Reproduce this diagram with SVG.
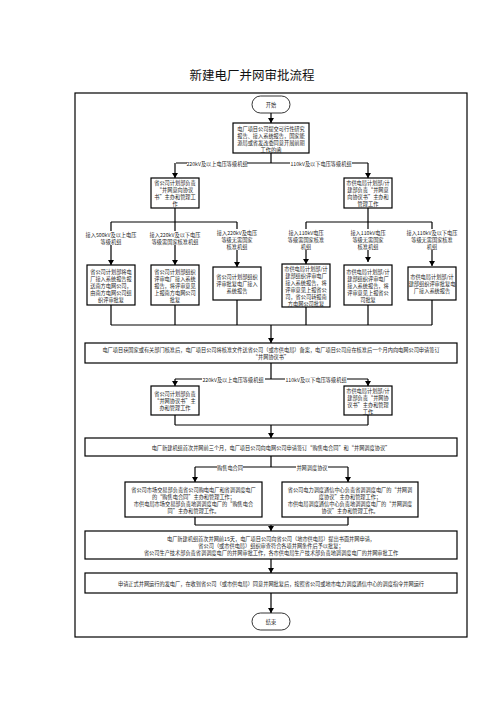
<svg xmlns="http://www.w3.org/2000/svg" width="504" height="713" viewBox="0 0 504 713">
<defs>
<marker id="ah" markerWidth="6" markerHeight="6" refX="5" refY="3" orient="auto" markerUnits="userSpaceOnUse">
<path d="M0,0 L5,3 L0,6 Z" fill="#000"/>
</marker>
<style>
.bx{fill:#fff;stroke:#000;stroke-width:1.2}
.tm{fill:#fff;stroke:#000;stroke-width:0.8}
.ln{fill:none;stroke:#000;stroke-width:1.2}
.ar{fill:none;stroke:#000;stroke-width:1.2;marker-end:url(#ah)}
.t{font-family:"Noto Sans CJK SC","Liberation Sans",sans-serif;font-size:5.2px;fill:#222;text-anchor:middle;dominant-baseline:central}
.lb{fill:#fff;stroke:none}
.ti{font-family:"Noto Sans CJK SC","Liberation Sans",sans-serif;font-size:12.5px;fill:#111;text-anchor:middle;dominant-baseline:central}
</style>
</defs>
<rect width="504" height="713" fill="#fff"/>
<text class="ti" x="252" y="74">新建电厂并网审批流程</text>
<rect id="frame" x="75" y="93" width="392" height="544" fill="none" stroke="#000" stroke-width="1.2"/>

<g id="connectors">
<path class="ar" d="M271,113 V123"/>
<path class="ln" d="M271,153 V163 M176,163 H368"/>
<path class="ar" d="M175,163 V178"/>
<path class="ar" d="M368,163 V178"/>
<path class="ln" d="M175,208 V222 M111,222 H237 M368,208 V222 M306,222 H432"/>
<path class="ar" d="M111,222 V265"/>
<path class="ar" d="M175,222 V265"/>
<path class="ar" d="M237,222 V267"/>
<path class="ar" d="M306,222 V264"/>
<path class="ar" d="M368,222 V262"/>
<path class="ar" d="M432,222 V266"/>
<path class="ln" d="M111,305 V325 M175,305 V325 M237,300 V325 M306,307 V325 M368,305 V325 M432,300 V325 M111,325 H432"/>
<path class="ar" d="M271,325 V343"/>
<path class="ln" d="M271,363 V379 M175,379 H368"/>
<path class="ar" d="M175,379 V386"/>
<path class="ar" d="M368,379 V386"/>
<path class="ln" d="M175,415 V425 M368,415 V425 M175,425 H368"/>
<path class="ar" d="M271,425 V438"/>
<path class="ln" d="M271,456 V467 M195,467 H348"/>
<path class="ar" d="M195,467 V482"/>
<path class="ar" d="M348,467 V482"/>
<path class="ln" d="M195,517 V525 M348,517 V525 M195,525 H348"/>
<path class="ar" d="M271,525 V531"/>
<path class="ar" d="M271,559 V573"/>
<path class="ar" d="M271,593 V613"/>
<rect class="lb" x="187" y="160" width="60" height="6"/>
<text class="t" x="217" y="163">220kV及以上电压等级机组</text>
<rect class="lb" x="290" y="160" width="62" height="6"/>
<text class="t" x="321" y="163">110kV及以下电压等级机组</text>
<rect class="lb" x="202" y="376" width="63" height="6"/>
<text class="t" x="233" y="379">220kV及以上电压等级机组</text>
<rect class="lb" x="285" y="376" width="62" height="6"/>
<text class="t" x="316" y="379">110kV及以下电压等级机组</text>
<rect class="lb" x="217" y="464" width="26" height="6"/>
<text class="t" x="230" y="467">购售电合同</text>
<rect class="lb" x="296" y="464" width="32" height="6"/>
<text class="t" x="312" y="467">并网调度协议</text>
</g>

<g id="labels">
<rect class="lb" x="86" y="231" width="50" height="14"/>
<text class="t" x="111" y="234.5">接入500kV及以上电压</text>
<text class="t" x="111" y="241.5">等级机组</text>
<rect class="lb" x="148" y="231" width="54" height="14"/>
<text class="t" x="175" y="234.5">接入220kV及以下电压</text>
<text class="t" x="175" y="241.5">等级需国家核准机组</text>
<rect class="lb" x="215" y="229" width="44" height="21"/>
<text class="t" x="237" y="232.5">接入220kV及电压</text>
<text class="t" x="237" y="239.5">等级无需国家</text>
<text class="t" x="237" y="246.5">核准机组</text>
<rect class="lb" x="284" y="229" width="44" height="21"/>
<text class="t" x="306" y="232.5">接入110kV电压</text>
<text class="t" x="306" y="239.5">等级需国家核准</text>
<text class="t" x="306" y="246.5">机组</text>
<rect class="lb" x="346" y="229" width="44" height="21"/>
<text class="t" x="368" y="232.5">接入110kV电压</text>
<text class="t" x="368" y="239.5">等级无需国家</text>
<text class="t" x="368" y="246.5">核准机组</text>
<rect class="lb" x="406" y="229" width="52" height="21"/>
<text class="t" x="432" y="232.5">接入110kV及以下电压</text>
<text class="t" x="432" y="239.5">等级无需国家核准</text>
<text class="t" x="432" y="246.5">机组</text>
</g>

<g id="start">
<rect class="tm" x="252" y="96" width="38" height="17" rx="8.5"/>
<text class="t" x="271" y="104.5">开始</text>
</g>

<g id="submit">
<rect class="bx" x="233" y="123" width="76" height="30"/>
<text class="t" x="271" y="128">电厂项目公司提交可行性研究</text>
<text class="t" x="271" y="135">报告、接入系统报告，国家能</text>
<text class="t" x="271" y="142">源局或省发改委同意开展前期</text>
<text class="t" x="271" y="149">工作的函</text>
</g>

<g id="prov-intent">
<rect class="bx" x="151" y="178" width="48" height="30"/>
<text class="t" x="175" y="182.5">省公司计划部负责</text>
<text class="t" x="175" y="189.5">“并网意向协议</text>
<text class="t" x="175" y="196.5">书”主办和管理工</text>
<text class="t" x="175" y="203.5">作</text>
</g>

<g id="city-intent">
<rect class="bx" x="344" y="178" width="48" height="30"/>
<text class="t" x="368" y="182.5">市供电局计划部/计</text>
<text class="t" x="368" y="189.5">建部负责“并网意</text>
<text class="t" x="368" y="196.5">向协议书”主办和</text>
<text class="t" x="368" y="203.5">管理工作</text>
</g>

<g id="review1">
<rect class="bx" x="87" y="265" width="48" height="40"/>
<text class="t" x="111" y="271">省公司计划部将电</text>
<text class="t" x="111" y="278">厂接入系统报告报</text>
<text class="t" x="111" y="285">送南方电网公司，</text>
<text class="t" x="111" y="292">由南方电网公司组</text>
<text class="t" x="111" y="299">织评审批复</text>
</g>

<g id="review2">
<rect class="bx" x="151" y="265" width="48" height="40"/>
<text class="t" x="175" y="271">省公司计划部组织</text>
<text class="t" x="175" y="278">评审电厂接入系统</text>
<text class="t" x="175" y="285">报告，将评审意见</text>
<text class="t" x="175" y="292">上报南方电网公司</text>
<text class="t" x="175" y="299">批复</text>
</g>

<g id="review3">
<rect class="bx" x="213" y="267" width="48" height="33"/>
<text class="t" x="237" y="276.5">省公司计划部组织</text>
<text class="t" x="237" y="283.5">评审批复电厂接入</text>
<text class="t" x="237" y="290.5">系统报告</text>
</g>

<g id="review4">
<rect class="bx" x="282" y="264" width="48" height="43"/>
<text class="t" x="306" y="268">市供电局计划部/计</text>
<text class="t" x="306" y="275">建部组织评审电厂</text>
<text class="t" x="306" y="282">接入系统报告，将</text>
<text class="t" x="306" y="289">评审意见上报省公</text>
<text class="t" x="306" y="296">司，省公司转报南</text>
<text class="t" x="306" y="303">方电网公司批复</text>
</g>

<g id="review5">
<rect class="bx" x="344" y="265" width="48" height="40"/>
<text class="t" x="368" y="271">市供电局计划部/计</text>
<text class="t" x="368" y="278">建部组织评审电厂</text>
<text class="t" x="368" y="285">接入系统报告，将</text>
<text class="t" x="368" y="292">评审意见上报省公</text>
<text class="t" x="368" y="299">司批复</text>
</g>

<g id="review6">
<rect class="bx" x="408" y="267" width="48" height="33"/>
<text class="t" x="432" y="276.5">市供电局计划部/计</text>
<text class="t" x="432" y="283.5">建部组织评审批复电</text>
<text class="t" x="432" y="290.5">厂接入系统报告</text>
</g>

<g id="approval">
<rect class="bx" x="85" y="343" width="372" height="20"/>
<text class="t" x="271" y="349.5">电厂项目获国家或有关部门核准后，电厂项目公司将核准文件送省公司（或市供电局）备案，电厂项目公司应在核准后一个月内向电网公司申请签订</text>
<text class="t" x="271" y="356.5">“并网协议书”</text>
</g>

<g id="prov-agreement">
<rect class="bx" x="151" y="386" width="48" height="29"/>
<text class="t" x="175" y="393.5">省公司计划部负责</text>
<text class="t" x="175" y="400.5">“并网协议书”主</text>
<text class="t" x="175" y="407.5">办和管理工作</text>
</g>

<g id="city-agreement">
<rect class="bx" x="344" y="386" width="48" height="29"/>
<text class="t" x="368" y="390">市供电局计划部/计</text>
<text class="t" x="368" y="397">建部负责“并网协</text>
<text class="t" x="368" y="404">议书”主办和管理</text>
<text class="t" x="368" y="411">工作</text>
</g>

<g id="contracts">
<rect class="bx" x="85" y="438" width="372" height="18"/>
<text class="t" x="271" y="447">电厂新建机组首次并网前三个月，电厂项目公司向电网公司申请签订“购售电合同”和“并网调度协议”</text>
</g>

<g id="purchase">
<rect class="bx" x="125" y="482" width="137" height="35"/>
<text class="t" x="193.5" y="489">省公司市场交易部负责省公司购电电厂和省调调度电厂</text>
<text class="t" x="193.5" y="496">的“购售电合同”主办和管理工作；</text>
<text class="t" x="193.5" y="503">市供电局市场交易部负责地调调度电厂的“购售电合</text>
<text class="t" x="193.5" y="510">同”主办和管理工作。</text>
</g>

<g id="dispatch">
<rect class="bx" x="282" y="482" width="136" height="35"/>
<text class="t" x="350" y="489">省公司电力调度通信中心负责省调调度电厂的“并网调</text>
<text class="t" x="350" y="496">度协议”主办和管理工作；</text>
<text class="t" x="350" y="503">市供电局调度通信中心负责地调调度电厂的“并网调度</text>
<text class="t" x="350" y="510">协议”主办和管理工作。</text>
</g>

<g id="grid-application">
<rect class="bx" x="85" y="531" width="372" height="28"/>
<text class="t" x="271" y="538">电厂新建机组首次并网前15天，电厂项目公司向省公司（地市供电局）提出书面并网申请，</text>
<text class="t" x="271" y="545">省公司（或市供电局）组织审查符合各项并网条件后予以批复；</text>
<text class="t" x="271" y="552">省公司生产技术部负责省调调度电厂的并网审批工作，各市供电局生产技术部负责地调调度电厂的并网审批工作</text>
</g>

<g id="operation">
<rect class="bx" x="85" y="573" width="372" height="20"/>
<text class="t" x="271" y="583">申请正式并网运行的发电厂，在收到省公司（或市供电局）同意并网批复后，按照省公司或地市电力调度通信中心的调度指令并网运行</text>
</g>

<g id="end">
<rect class="tm" x="252" y="613" width="38" height="17" rx="8.5"/>
<text class="t" x="271" y="621.5">结束</text>
</g>
</svg>
